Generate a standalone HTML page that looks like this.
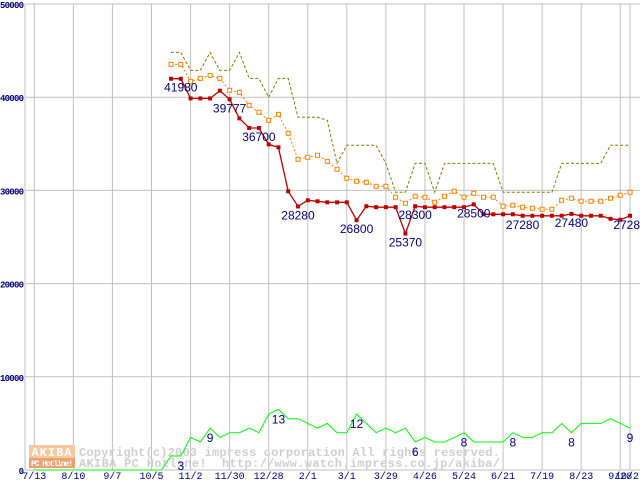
<!DOCTYPE html>
<html><head><meta charset="utf-8"><style>
html,body{margin:0;padding:0;background:#fff;}
svg{display:block;}
</style></head><body>
<svg id="chart" width="640" height="480" xmlns="http://www.w3.org/2000/svg" font-family="'Liberation Mono', monospace">
<rect x="0" y="0" width="640" height="480" fill="#fff"/>
<g id="grid"></g>
<g id="watermark">
  <rect x="29" y="445" width="46" height="13" fill="#f8c8a0"/>
  <text x="52" y="456" font-size="12" font-weight="bold" fill="#fff" text-anchor="middle" letter-spacing="1">AKIBA</text>
  <rect x="29" y="458" width="46" height="10" fill="#f0a070"/>
  <text x="52" y="466" font-size="8" font-weight="bold" fill="#fff" text-anchor="middle" textLength="42">PC Hotline!</text>
  <text x="79" y="456" font-size="12" font-weight="bold" fill="#cfcfcf" textLength="421">Copyright(c)2003 impress corporation All rights reserved.</text>
  <text x="79" y="467" font-size="12" font-weight="bold" fill="#cfcfcf" textLength="421" xml:space="preserve">AKIBA PC Hotline!  http://www.watch.impress.co.jp/akiba/</text>
</g>
<g id="series"></g>
<g id="labels"></g>
</svg>
<script>
const xTickLabels = ["7/13","8/10","9/7","10/5","11/2","11/30","12/28","2/1","3/1","3/29","4/26","5/24","6/21","7/19","8/23","9/28","10/27"];
const xTickIndex = [0,4,8,12,16,20,24,28,32,36,40,44,48,52,56,60,61];
const yTicks = [0,10000,20000,30000,40000,50000];
const startIndex = 14;
const minPrice = [41980,41980,39870,39870,39870,40700,39777,37730,36700,36700,34940,34620,29900,28280,28940,28830,28720,28720,28720,26800,28300,28200,28200,28200,25370,28300,28200,28200,28200,28200,28200,28500,27440,27440,27440,27440,27280,27280,27280,27280,27280,27480,27280,27280,27280,26950,26850,27280];
const avgPrice = [43520,43520,41700,42020,42340,42020,40740,40520,39130,38380,37520,38160,36130,33340,33550,33770,33120,32270,31300,30980,30870,30440,30440,29270,28620,29370,29270,28730,29370,29910,29270,29690,29270,29270,28300,28410,28190,28090,27980,27980,28940,29160,28840,28840,28840,29160,29480,29800];
const maxPrice = [44810,44810,42880,42880,44810,42880,42880,44810,42020,42020,39990,42020,42020,37840,37840,37840,37520,32900,34840,34840,34840,34840,32900,29800,29800,32900,32900,29800,32900,32900,32900,32900,32900,32900,29800,29800,29800,29800,29800,29800,32900,32900,32900,32900,32900,34840,34840,34840];
const shopCount = [3,3,7,6,9,7,8,8,9,8,12,13,11,11,10,9,10,8,8,12,10,8,9,8,9,6,7,6,6,7,8,6,6,6,6,8,7,7,8,8,10,8,10,10,10,11,10,9];
const priceLabelIdx = [15,20,23,27,33,38,39,45,50,55,61];
const countLabelIdx = [15,18,25,33,39,44,49,55,61];
const countScale = 500;

const NS = "http://www.w3.org/2000/svg";
const X = i => 34.3 + i * 9.766;
const Y = v => 470 - v * 0.00932;
function mk(tag, attrs, parent){ const e=document.createElementNS(NS,tag); for(const k in attrs) e.setAttribute(k,attrs[k]); parent.appendChild(e); return e; }

const grid = document.getElementById('grid');
mk('line',{x1:25,y1:4,x2:25,y2:470,stroke:'#c0c0c0','stroke-width':1},grid);
yTicks.forEach(v=>{
  const l = mk('line',{x1:25,y1:Y(v),x2:640,y2:Y(v),stroke:'#c0c0c0','stroke-width':1},grid);
  
  
  const t = mk('text',{x:24,y:Y(v)+4,'font-size':9,'font-weight':'bold',fill:'#000080','text-anchor':'end'},grid);
  t.textContent = String(v);
  if(String(v).length>1) t.setAttribute('textLength', String(v).length*4.8);
  
  
});
xTickIndex.forEach((idx,k)=>{
  const l = mk('line',{x1:X(idx),y1:4,x2:X(idx),y2:470,stroke:'#c0c0c0','stroke-width':1},grid);
  
  
  const t = mk('text',{x:X(idx),y:479,'font-size':10,fill:'#000080','text-anchor':'middle'},grid);
  t.textContent = xTickLabels[k];
  
  
});

const series = document.getElementById('series');
function pts(arr, f){ return arr.map((v,k)=>X(startIndex+k).toFixed(1)+','+f(v).toFixed(1)).join(' '); }

let gp = [];
for(let i=0;i<startIndex;i++) gp.push(X(i).toFixed(1)+','+Y(0).toFixed(1));
const green = mk('polyline',{points:gp.join(' ')+' '+pts(shopCount,c=>Y(c*countScale)),fill:'none',stroke:'#00ff00','stroke-width':1},series);



const olive = mk('polyline',{points:pts(maxPrice,Y),fill:'none',stroke:'#808000','stroke-width':1,'stroke-dasharray':'3,2'},series);



const orange = mk('polyline',{points:pts(avgPrice,Y),fill:'none',stroke:'#ff8000','stroke-width':1,'stroke-dasharray':'2,2'},series);


avgPrice.forEach((v,k)=>{
  const r = mk('rect',{x:X(startIndex+k)-2,y:Y(v)-2,width:4,height:4,fill:'#fff',stroke:'#ff8000','stroke-width':1},series);
  
  
});

const red = mk('polyline',{points:pts(minPrice,Y),fill:'none',stroke:'#c00000','stroke-width':1.3},series);


minPrice.forEach((v,k)=>{
  const r = mk('rect',{x:X(startIndex+k)-2,y:Y(v)-2,width:4,height:4,fill:'#c00000'},series);
  
  
});

const labels = document.getElementById('labels');
priceLabelIdx.forEach(i=>{
  const v = minPrice[i-startIndex];
  const t = mk('text',{x:X(i),y:Y(v)+13,'font-size':12,fill:'#000080','text-anchor':'middle','font-family':"'Liberation Sans', sans-serif"},labels);
  t.textContent = String(v);
  
  
});
countLabelIdx.forEach(i=>{
  const c = shopCount[i-startIndex];
  const t = mk('text',{x:X(i),y:Y(c*countScale)+14,'font-size':12,fill:'#000080','text-anchor':'middle','font-family':"'Liberation Sans', sans-serif"},labels);
  t.textContent = String(c);
  
  
});
</script>
</body></html>
